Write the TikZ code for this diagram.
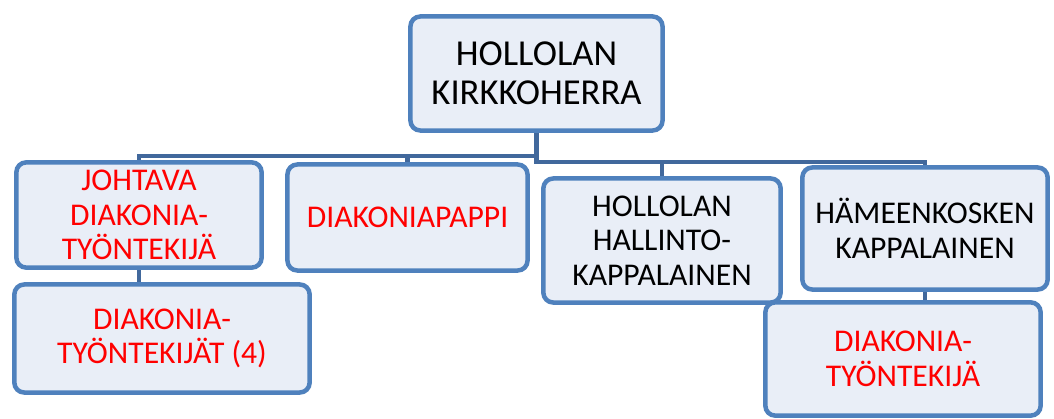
\documentclass[tikz,border=0pt]{standalone}
\usepackage{fontspec}
\setmainfont{Carlito}
\usetikzlibrary{backgrounds}
\definecolor{boxline}{HTML}{4F81BD}
\definecolor{boxfill}{HTML}{E9EEF7}
\definecolor{linkline}{HTML}{41689C}
\definecolor{redtext}{HTML}{FF0000}

\begin{document}
\begin{tikzpicture}[x=0.025cm,y=-0.025cm,
	box/.style={draw=boxline,fill=boxfill,line width=3.2pt,rounded corners=7pt,align=center,inner sep=2pt,font=\fontsize{22.5}{24.5}\selectfont},
	redlabel/.style={text=redtext},
	link/.style={draw=linkline,line width=3.2pt}]
		\useasboundingbox (0,0) rectangle (1054,419);
		\node[box,minimum width=6.3cm,minimum height=2.85cm,font=\fontsize{26}{28}\selectfont] (kirkkoherra) at (536.5,73.5) {HOLLOLAN\\KIRKKOHERRA};
		\node[box,redlabel,minimum width=6.13cm,minimum height=2.63cm] (johtava) at (139,215) {JOHTAVA\\DIAKONIA-\\TYÖNTEKIJÄ};
		\node[box,redlabel,minimum width=6cm,minimum height=2.65cm] (pappi) at (407.5,217.5) {DIAKONIAPAPPI};
		\node[box,minimum width=5.93cm,minimum height=3.1cm] (hallinto) at (662,240.5) {HOLLOLAN\\HALLINTO-\\KAPPALAINEN};
		\node[box,minimum width=6.13cm,minimum height=3.05cm] (hameen) at (925,228.5) {HÄMEENKOSKEN\\KAPPALAINEN};
		\node[box,redlabel,minimum width=7.38cm,minimum height=2.7cm] (tyontekijat) at (162,338.5) {DIAKONIA-\\TYÖNTEKIJÄT (4)};
		\node[box,redlabel,minimum width=6.88cm,minimum height=2.83cm] (tyontekija) at (903,359) {DIAKONIA-\\TYÖNTEKIJÄ};
		\begin{scope}[on background layer]
		\draw[link] (kirkkoherra.south) -- ++(0,23) -| (johtava.north);
		\draw[link] (kirkkoherra.south) -- ++(0,23) -| (pappi.north);
		\draw[link] (kirkkoherra.south) -- ++(0,29) -| (hallinto.north);
		\draw[link] (kirkkoherra.south) -- ++(0,29) -| (hameen.north);
		\draw[link] (johtava.south) -- (johtava.south |- tyontekijat.north);
		\draw[link] (hameen.south) -- (hameen.south |- tyontekija.north);
		\end{scope}
		%\node at (536,160) {};
		\end{tikzpicture}
\end{document}
